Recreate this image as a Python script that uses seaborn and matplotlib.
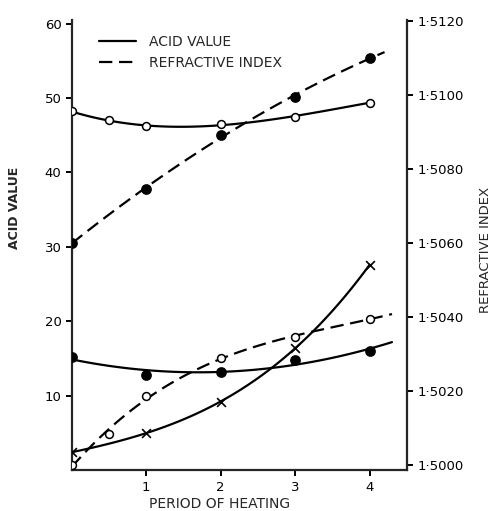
import numpy as np
import matplotlib
matplotlib.use("Agg")
import matplotlib.pyplot as plt
from matplotlib.lines import Line2D
from matplotlib.ticker import FuncFormatter
import seaborn as sns

# --- data ---
# period of heating
hours_open = [0, 0.5, 1, 2, 3, 4]
hours = [0, 1, 2, 3, 4]

# acid value (solid lines, left axis)
acid_open = [48.2, 47.0, 46.2, 46.5, 47.5, 49.4]
acid_filled = [15.2, 12.8, 13.2, 14.8, 16.0]
acid_cross = [2.4, 5.0, 9.2, 16.4, 27.6]

# refractive index (dashed lines, right axis)
ri_filled = [1.5060, 1.50746, 1.50892, 1.50995, 1.5110]
ri_open = [1.5000, 1.50084, 1.50186, 1.50289, 1.50346, 1.50395]

left_ticks = [10, 20, 30, 40, 50, 60]
right_ticks = [1.500, 1.502, 1.504, 1.506, 1.508, 1.510, 1.512]
x_ticks = [1, 2, 3, 4]

sns.set_style("ticks")
plt.rcParams['font.family'] = ['DejaVu Sans']

fig = plt.figure(figsize=(4.92, 5.11), dpi=100)
ax = fig.add_axes([0.146, 0.080, 0.681, 0.881])
ax2 = ax.twinx()

LW = 1.6
DASH = (6, 3)


def curve(axis, x, y, order, ls, marker, filled, ms, extend=None):
    # smooth hand-drawn style curve through the points
    if extend is not None:
        axis.set_xlim(0, extend)
    sns.regplot(x=np.array(x), y=np.array(y), ax=axis, order=order, ci=None,
                scatter=False, truncate=extend is None, color="black",
                line_kws=dict(linestyle=ls, linewidth=LW,
                              dashes=DASH if ls == "--" else (None, None)))
    if marker == "x":
        sns.scatterplot(x=x, y=y, ax=axis, marker="x", s=ms, color="black",
                        linewidth=1.2, zorder=5)
    else:
        sns.scatterplot(x=x, y=y, ax=axis, marker="o", s=ms,
                        facecolor="black" if filled else "white",
                        edgecolor="black", linewidth=1.1, zorder=5)


# acid value curves
curve(ax, hours_open, acid_open, 3, "-", "o", False, 32)
curve(ax, hours, acid_filled, 2, "-", "o", True, 44, extend=4.3)
ax.set_xlim(0, 4.5)
curve(ax, hours, acid_cross, 3, "-", "x", True, 40)

# refractive index curves
curve(ax2, hours, ri_filled, 2, "--", "o", True, 44, extend=4.2)
curve(ax2, hours_open, ri_open, 3, "--", "o", False, 32, extend=4.3)

ax.set_xlim(0, 4.5)
ax.set_ylim(0, 60.5)
ax2.set_ylim(1.49986, 1.51203)

ax.set_xticks(x_ticks)
ax.set_yticks(left_ticks)
ax2.set_yticks(right_ticks)
ax2.yaxis.set_major_formatter(FuncFormatter(lambda v, p: f"{v:.4f}".replace(".", "\u00b7")))

for a in (ax, ax2):
    a.spines["top"].set_visible(False)
    for s in ("left", "right", "bottom"):
        a.spines[s].set_linewidth(1.6)
    a.tick_params(direction="out", length=4, width=1.4, labelsize=9.5, colors="black")
ax.spines["right"].set_visible(False)
ax2.spines["left"].set_visible(False)
ax2.spines["bottom"].set_visible(False)

ax.set_xlabel("PERIOD OF HEATING", fontsize=10)
ax.xaxis.set_label_coords(0.44, -0.06)
ax.set_ylabel("ACID VALUE", fontsize=9, fontweight="bold")
ax.yaxis.set_label_coords(-0.152, 0.582)
ax2.set_ylabel("REFRACTIVE INDEX", fontsize=9.5)
ax2.yaxis.set_label_coords(1.215, 0.489)

handles = [Line2D([], [], color="black", lw=LW, ls="-"),
           Line2D([], [], color="black", lw=LW, ls="--", dashes=DASH)]
ax.legend(handles, ["ACID VALUE", "REFRACTIVE INDEX"], loc="upper left",
          bbox_to_anchor=(0.045, 0.995), frameon=False, fontsize=10,
          handlelength=2.6, handletextpad=1.0, labelspacing=0.5)

fig.savefig("out.png", dpi=100)
